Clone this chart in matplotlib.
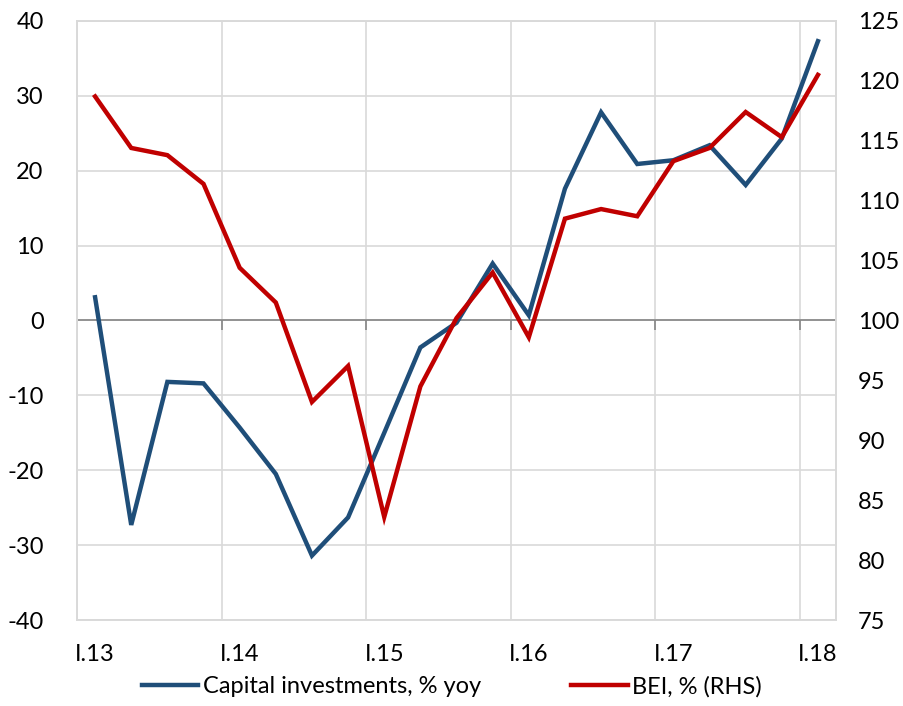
import matplotlib.pyplot as plt
import numpy as np

plt.rcParams['font.family'] = ['Lato', 'DejaVu Sans']
plt.rcParams['axes.unicode_minus'] = False

# quarterly, I.13 .. I.18
quarters = ['I.13', 'II.13', 'III.13', 'IV.13', 'I.14', 'II.14', 'III.14', 'IV.14',
            'I.15', 'II.15', 'III.15', 'IV.15', 'I.16', 'II.16', 'III.16', 'IV.16',
            'I.17', 'II.17', 'III.17', 'IV.17', 'I.18']
capital_inv = [3.1, -27.3, -8.2, -8.4, -14.3, -20.5, -31.4, -26.3, -15.0, -3.6, -0.3,
               7.6, 0.7, 17.6, 27.8, 20.9, 21.4, 23.4, 18.1, 24.3, 37.3]
bei = [118.7, 114.4, 113.8, 111.4, 104.4, 101.5, 93.2, 96.2, 83.6, 94.5, 100.2,
       104.0, 98.6, 108.5, 109.3, 108.7, 113.3, 114.4, 117.4, 115.3, 120.5]

blue = '#1f4e79'
red = '#c00000'
grid_c = '#d9d9d9'

fig = plt.figure(figsize=(9.04, 7.06), dpi=100)
ax = fig.add_axes([0.0852, 0.1218, 0.8396, 0.8485])
ax2 = ax.twinx()

x = np.arange(len(quarters))
l1, = ax.plot(x, capital_inv, color=blue, lw=3.2, solid_joinstyle='miter',
              label='Capital investments, % yoy', zorder=3)
l2, = ax2.plot(x, bei, color=red, lw=3.2, solid_joinstyle='miter',
               label='BEI, % (RHS)', zorder=3)

ax.set_xlim(-0.5, len(quarters) - 0.5)
ax.set_ylim(-40, 40)
ax.set_yticks(np.arange(-40, 41, 10))
ax2.set_ylim(75, 125)
ax2.set_yticks(np.arange(75, 126, 5))

year_idx = [i for i, q in enumerate(quarters) if q.startswith('I.')]
ax.set_xticks(year_idx)
ax.set_xticklabels([quarters[i] for i in year_idx])
bounds = [i - 0.5 for i in year_idx]
ax.set_xticks(bounds, minor=True)

ax.grid(True, which='minor', axis='x', color=grid_c, lw=1.2)
ax.grid(True, which='major', axis='y', color=grid_c, lw=1.2)
ax.set_axisbelow(True)

# category axis line at zero with small ticks on year boundaries
ax.axhline(0, color='#868686', lw=1.2, zorder=2)
ax.plot(bounds, [0] * len(bounds), ls='', marker=3, ms=7, mew=1.2,
        color='#868686', zorder=2)

for a in (ax, ax2):
    for s in a.spines.values():
        s.set_color(grid_c)
        s.set_linewidth(1.2)
    a.tick_params(which='both', length=0, labelsize=17, colors='black')
ax.tick_params(axis='y', pad=24)
ax.tick_params(axis='x', pad=17)
ax2.tick_params(axis='y', pad=16)

fig.legend(handles=[l1, l2], loc='lower center', bbox_to_anchor=(0.5, -0.018),
           ncol=2, frameon=False, fontsize=17, handlelength=2.4,
           handletextpad=0.2, columnspacing=3.8)

fig.savefig('out.png', dpi=100)
